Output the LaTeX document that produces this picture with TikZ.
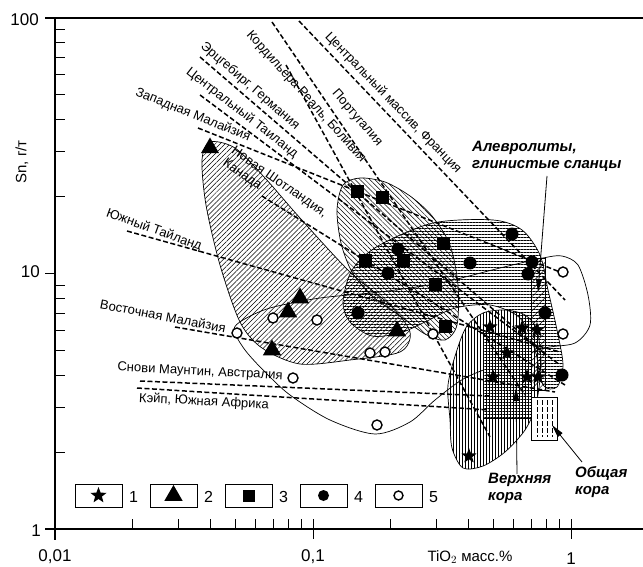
\documentclass[tikz,border=0pt]{standalone}
\usepackage{fontspec}
\setmainfont{Liberation Sans}
\usetikzlibrary{shapes.geometric,arrows.meta,patterns.meta}
\tikzset{
  axisline/.style={line width=1.2pt},
  tk/.style={line width=0.9pt},
  reg/.style={dash pattern=on 5pt off 2.5pt,line width=1.5pt},
  fld/.style={line width=0.7pt},
  lbl/.style={font=\fontsize{13}{15}\selectfont,inner sep=0pt},
  num/.style={font=\fontsize{17}{20}\selectfont,inner sep=0pt},
  big/.style={font=\fontsize{15}{17}\selectfont\bfseries\itshape,inner sep=0pt,align=left},
  ptr/.style={line width=0.8pt,-{Triangle[length=13pt,width=6pt]}},
  mstar/.style={star,star points=5,star point ratio=2.4,fill=black,inner sep=0pt,minimum size=16pt},
  mtri/.style={regular polygon,regular polygon sides=3,fill=black,inner sep=0pt,minimum size=21pt},
  msq/.style={rectangle,fill=black,inner sep=0pt,minimum size=13pt},
  mdot/.style={circle,fill=black,inner sep=0pt,minimum size=13pt},
  mcirc/.style={circle,draw=black,fill=white,line width=1.4pt,inner sep=0pt,minimum size=10pt},
  legbox/.style={draw,line width=0.8pt,minimum width=47pt,minimum height=23pt,inner sep=0pt}
}
\begin{document}
\begin{tikzpicture}[x=1pt,y=-1pt]
\useasboundingbox (0,0) rectangle (643,567);
% fields
\draw[fld,pattern={Lines[angle=45,distance=3.5pt,line width=0.5pt]}] plot[smooth cycle] coordinates {(210,142) (235,148) (265,178) (300,218) (350,272) (390,305) (410,332) (400,352) (350,360) (300,364) (262,348) (240,322) (220,265) (206,205) (202,160)};
\draw[fld] plot[smooth cycle] coordinates {(234,330) (245,350) (265,372) (290,395) (330,420) (375,434) (410,422) (435,400) (465,378) (505,362) (545,348) (575,343) (590,325) (588,295) (578,265) (562,256) (543,258) (500,268) (440,283) (380,292) (320,298) (270,308) (243,320)};
\draw[fld,pattern={Lines[angle=-45,distance=3.5pt,line width=0.5pt]}] plot[smooth cycle] coordinates {(343,185) (360,178) (385,182) (410,196) (432,216) (450,245) (458,285) (457,325) (445,340) (425,334) (400,316) (372,296) (352,272) (341,243) (337,210)};
\draw[fld,pattern={Lines[angle=0,distance=3pt,line width=0.5pt]}] plot[smooth cycle] coordinates {(343,302) (352,270) (378,246) (433,223) (493,220) (522,230) (540,255) (548,290) (557,330) (563,365) (557,387) (543,385) (535,350) (520,318) (490,305) (455,308) (425,322) (400,333) (372,336) (350,322)};
\draw[fld,pattern={Lines[angle=90,distance=3pt,line width=0.5pt]}] plot[smooth cycle] coordinates {(450,420) (448,385) (457,350) (467,326) (483,313) (505,310) (525,315) (537,330) (541,365) (536,405) (525,430) (505,452) (483,466) (463,468) (452,448)};
% crust boxes
\fill[white] (483,333) rectangle (531,418);
\draw[fld,pattern={Lines[angle=0,distance=3pt,line width=0.5pt]}] (483,333) rectangle (531,418);
\fill[pattern={Lines[angle=90,distance=3pt,line width=0.5pt]}] (483,333) rectangle (531,418);
\draw[fld,pattern={Lines[angle=45,distance=5pt,line width=0.5pt]}] (531,258) rectangle (545,390);
\draw[fld,fill=white] (531,397) rectangle (557,440);
\foreach \x in {537,542,547,552}
  \draw[dash pattern=on 5pt off 2pt,line width=0.6pt] (\x,400) -- (\x,437);
% regression lines
\draw[reg] (200,57) -- (545,354);
\draw[reg] (200,95) -- (560,365);
\draw[reg] (198,128) -- (560,272);
\draw[reg] (262,196) -- (565,385);
\draw[reg] (272,22) -- (525,395);
\draw[reg] (286,65) -- (490,437);
\draw[reg] (299,21) -- (565,300);
\draw[reg] (127,231) -- (560,352);
\draw[reg] (175,327) -- (555,392);
\draw[reg] (140,381) -- (490,396);
\draw[reg] (137,388) -- (490,410);
% line labels
\node[lbl,rotate=-41] (lerz) at (250,86) {Эрцгебирг, Германия};
\node[lbl,rotate=-38] (lcth) at (242,113) {Центральный Таиланд};
\node[lbl,rotate=-22] (lwml) at (193,115) {Западная Малайзия};
\node[lbl,rotate=-35,anchor=north west,align=left] (lns) at (236,145) {Новая Шотландия,\\Канада};
\node[lbl,rotate=-48] (lbol) at (306,97) {Кордильера Реаль, Боливия};
\node[lbl,rotate=-49] (lprt) at (357,118) {Португалия};
\node[lbl,rotate=-46] (lfr) at (393,103) {Центральный массив, Франция};
\node[lbl,rotate=-20] (lsth) at (154,230) {Южный Тайланд};
\node[lbl,rotate=-11] (leml) at (163,316) {Восточная Малайзия};
\node[lbl,rotate=-3] (lsnw) at (200,372) {Снови Маунтин, Австралия};
\node[lbl,rotate=-3] (lcap) at (204,402) {Кэйп, Южная Африка};
% data points
\foreach \x/\y [count=\i] in {490/327,522/328,537/330,507/353,493/377,527/377,538/377,469/456}
  \node[mstar] (st\i) at (\x,\y) {};
\foreach \x/\y [count=\i] in {210/148,300/298,288/312,272/350,397/331}
  \node[mtri] (tr\i) at (\x,\y) {};
\foreach \x/\y [count=\i] in {357/192,382/198,365/260,403/260,443/243,435/284,445/326}
  \node[msq] (sq\i) at (\x,\y) {};
\foreach \x/\y [count=\i] in {398/249,388/273,358/313,512/234,470/263,532/262,528/274,545/313,562/375}
  \node[mdot] (dt\i) at (\x,\y) {};
\foreach \x/\y [count=\i] in {237/333,273/318,317/320,370/353,385/352,293/378,377/425,433/334,563/272,563/334}
  \node[mcirc] (oc\i) at (\x,\y) {};
% crust labels and pointers
\node[big,anchor=north west] (alev) at (472,141) {Алевролиты,\\глинистые сланцы};
\node[big,anchor=north west] (upper) at (488,473) {Верхняя\\кора};
\node[big,anchor=north west] (bulk) at (575,466) {Общая\\кора};
\coordinate (alevfoot) at (547,176);
\coordinate (alevtip) at (538,292);
\coordinate (upperfoot) at (517,474);
\coordinate (uppertip) at (516,388);
\coordinate (bulkfoot) at (582,462);
\coordinate (bulktip) at (552,425);
\draw[ptr] (alevfoot) -- (alevtip);
\draw[ptr] (upperfoot) -- (uppertip);
\draw[ptr] (bulkfoot) -- (bulktip);
% legend
\foreach \k in {1,...,5} {
  \node[legbox] (lg\k) at ({23.5+75*\k},495.5) {};
  \node[num,font=\fontsize{16}{18}\selectfont,anchor=west] (ln\k) at ({75*\k+54},497) {\k};
}
\node[mstar,minimum size=17pt] (lgm1) at (lg1) {};
\node[mtri,minimum size=21pt] (lgm2) at (lg2) {};
\node[msq,minimum size=12pt] (lgm3) at (lg3) {};
\node[mdot,minimum size=11pt] (lgm4) at (lg4) {};
\node[mcirc,minimum size=9pt] (lgm5) at (lg5) {};
% axes
\draw[axisline] (45,18) -- (643,18);
\draw[axisline] (55,18) -- (55,540);
\draw[axisline] (45,529) -- (643,529);
\foreach \v in {2,...,9} {
  \draw[tk] (55,{529-255.5*log10(\v)}) -- ++(10,0);
  \draw[tk] (55,{529-255.5*(1+log10(\v))}) -- ++(10,0);
  \draw[tk] ({55+258*log10(\v)},529) -- ++(0,-10);
  \draw[tk] ({313+258*log10(\v)},529) -- ++(0,-10);
}
\draw[tk] (45,273.5) -- (55,273.5);
\draw[tk] (313,519) -- (313,539);
\draw[tk] (571,519) -- (571,539);
\node[num,anchor=east] (y100) at (39,20) {100};
\node[num,anchor=east] (y10) at (40,272) {10};
\node[num,anchor=east] (y1) at (41,531) {1};
\node[num] (x001) at (55,557) {0,01};
\node[num] (x01) at (313,557) {0,1};
\node[num] (x1) at (571,559) {1};
\node[num,font=\fontsize{15}{17}\selectfont] (xlab) at (470,557) {TiO$_2$ масс.\%};
\node[num,font=\fontsize{15}{17}\selectfont,rotate=90] (ylab) at (22,162) {Sn, г/т};
\end{tikzpicture}
\end{document}
